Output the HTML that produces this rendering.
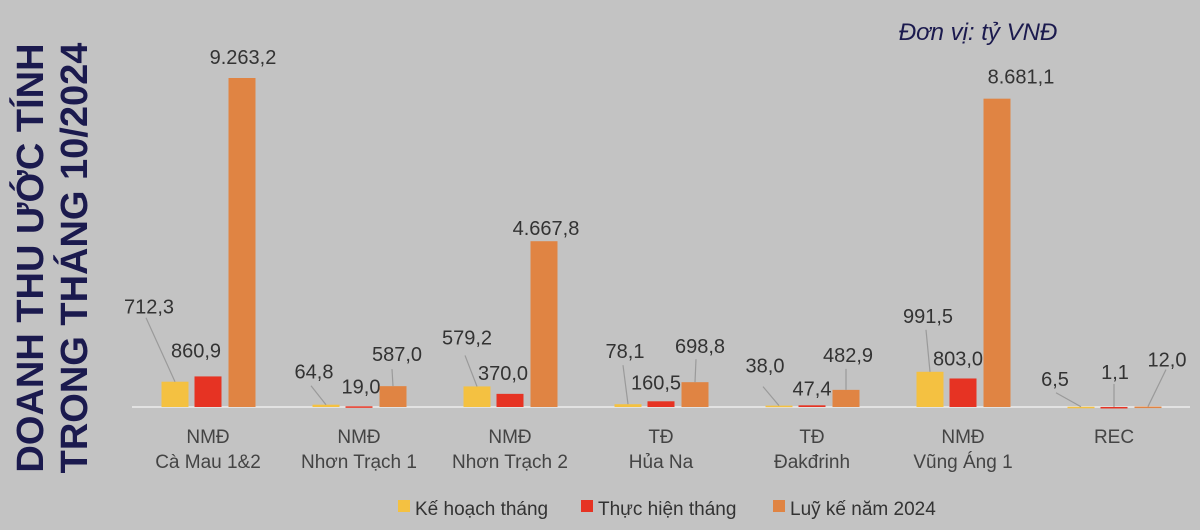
<!DOCTYPE html>
<html><head><meta charset="utf-8"><style>
body{margin:0;width:1200px;height:530px;background:#c3c3c3;overflow:hidden;font-family:"Liberation Sans",sans-serif}
svg{display:block}
</style></head><body>
<svg id="chart" width="1200" height="530">
<g font-family="Liberation Sans, sans-serif" font-weight="bold" font-size="38" fill="#1b1a4e">
<text transform="translate(43,258) rotate(-90)" text-anchor="middle">DOANH THU ƯỚC TÍNH</text>
<text transform="translate(87,258) rotate(-90)" text-anchor="middle">TRONG THÁNG 10/2024</text>
</g>
<text x="978" y="40" text-anchor="middle" font-size="24" font-style="italic" fill="#1b1a4e">Đơn vị: tỷ VNĐ</text>
<g id="plot"></g>
</svg>
<script>
const categories1 = ["NMĐ","NMĐ","NMĐ","TĐ","TĐ","NMĐ","REC"];
const categories2 = ["Cà Mau 1&2","Nhơn Trạch  1","Nhơn Trạch  2","Hủa Na","Đakđrinh","Vũng Áng 1",""];
const keHoach = [712.3,64.8,579.2,78.1,38.0,991.5,6.5];
const thucHien = [860.9,19.0,370.0,160.5,47.4,803.0,1.1];
const luyKe = [9263.2,587.0,4667.8,698.8,482.9,8681.1,12.0];
const seriesNames = ["Kế hoạch tháng","Thực hiện tháng","Luỹ kế năm 2024"];
// label layout: [dx, dy (text center), leaderStartDx, leaderStartDy or null] relative to bar top-center
const labelOffsets = [
 [[-26,-75,-29,-64],[-12,-26,null,null],[1,-21,null,null]],
 [[-12,-33,-15,-19],[2,-20,null,null],[4,-32,-1,-17]],
 [[-10,-49,-12,-31],[-7,-21,null,null],[2,-13,null,null]],
 [[-3,-53,-5,-39],[-5,-19,null,null],[5,-36,1,-23]],
 [[-14,-40,-16,-19],[0,-17,null,null],[2,-35,0,-21]],
 [[-2,-56,-4,-42],[-5,-20,null,null],[24,-22,null,null]],
 [[-26,-28,-25,-14],[1,-35,0,-23],[19,-47,18,-37]]
];
const colors = ["#f4c141","#e63323","#e08443"];
const x0 = 132.5, band = 151, baseY = 407, maxV = 9263.2, topY = 78;
const yScale = v => baseY - v/maxV*(baseY-topY);
const xCenter = i => x0 + band*i + band/2;
const barOff = [-33,0,34], barW = 27;
const fmt = v => { const s = v.toFixed(1).split('.'); return s[0].replace(/\B(?=(\d{3})+(?!\d))/g,'.')+','+s[1]; };
const NS = "http://www.w3.org/2000/svg";
const plot = document.getElementById('plot');
function mk(tag, attrs){const e=document.createElementNS(NS,tag);for(const k in attrs)e.setAttribute(k,attrs[k]);return e;}
const axis = mk('line',{x1:132,x2:1190,y1:baseY,y2:baseY,stroke:'#e2e2e2','stroke-width':2});


plot.appendChild(axis);
const series = [keHoach, thucHien, luyKe];
categories1.forEach((c,i)=>{
  series.forEach((arr,s)=>{
    const cx = xCenter(i)+barOff[s];
    const yt = yScale(arr[i]);
    const r = mk('rect',{x:cx-barW/2,y:yt,width:barW,height:Math.max(baseY-yt,1.5),fill:colors[s]});
    
    
    plot.appendChild(r);
    const o = labelOffsets[i][s];
    if(o[2]!==null){
      const l = mk('line',{x1:cx+o[2],y1:yt+o[3],x2:cx,y2:yt,stroke:'#9a9a9a','stroke-width':1.2});
      
      
      plot.appendChild(l);
    }
    const t = mk('text',{x:cx+o[0],y:yt+o[1]+7,'text-anchor':'middle','font-size':20,fill:'#333'});
    t.textContent = fmt(arr[i]);
    
    
    plot.appendChild(t);
  });
  const t1 = mk('text',{x:xCenter(i),y:443,'text-anchor':'middle','font-size':19,fill:'#444'});
  t1.textContent = c;
  
  
  plot.appendChild(t1);
  if(categories2[i]){
    const t2 = mk('text',{x:xCenter(i),y:468,'text-anchor':'middle','font-size':19,fill:'#444'});
    t2.textContent = categories2[i];
    
    
    plot.appendChild(t2);
  }
});
const legX = [398,581,773];
seriesNames.forEach((n,s)=>{
  const r = mk('rect',{x:legX[s],y:500,width:12,height:12,fill:colors[s]});
  
  
  plot.appendChild(r);
  const t = mk('text',{x:legX[s]+17,y:515,'font-size':19,fill:'#333'});
  t.textContent = n;
  
  
  plot.appendChild(t);
});
</script>
</body></html>
